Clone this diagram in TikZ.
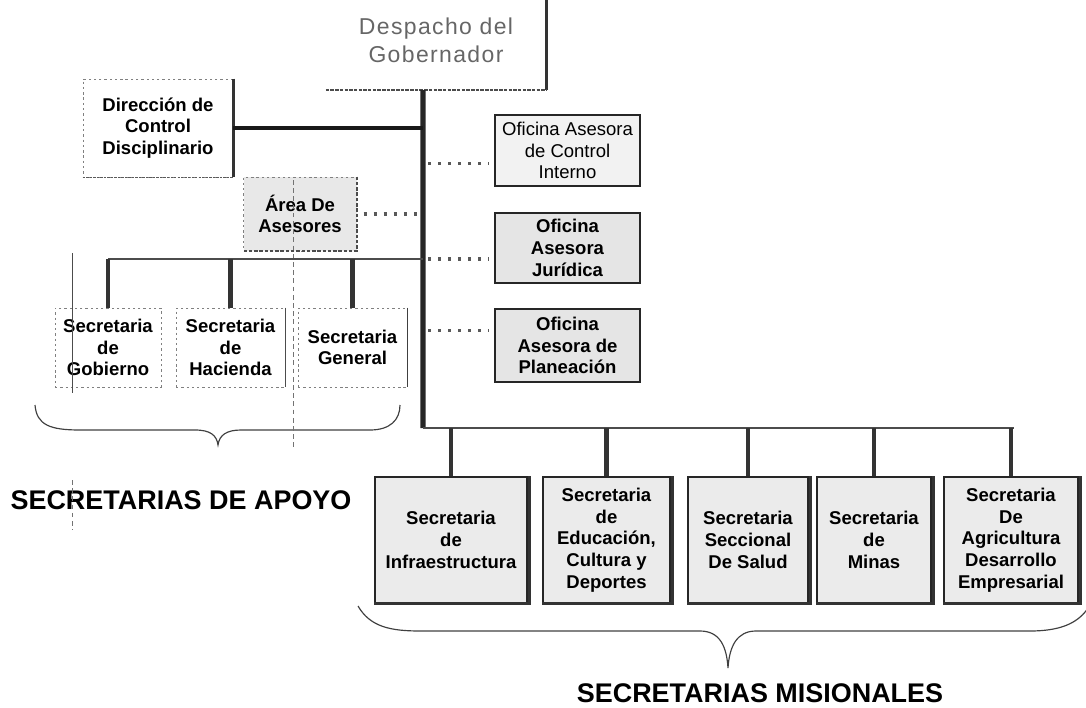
\documentclass[tikz,border=0pt]{standalone}
\usepackage{fontspec}
\setmainfont{Liberation Sans}
\usetikzlibrary{calc}

\newcommand{\orgfont}{\fontsize{15.8}{18.5}\selectfont}
\newcommand{\headfont}{\fontsize{23}{27}\selectfont}
\newcommand{\despfont}{\fontsize{19.6}{23.9}\selectfont\addfontfeature{LetterSpace=6}}

\tikzset{
  orgbox/.style={align=center, inner sep=0pt, font=\orgfont\bfseries},
  faintbox/.style={orgbox, draw=black!50, line width=.6pt, dash pattern=on 2pt off 2.5pt},
  officebox/.style={orgbox, draw=black!85, line width=1.3pt, fill=black!10},
  missionbox/.style={orgbox, draw=black!85, line width=1.1pt, fill=black!8},
  thickbar/.style={line width=4pt, black!80},
  busline/.style={line width=2.4pt, black!70},
  dotlink/.style={line width=2.6pt, black!65, dash pattern=on 2.6pt off 6pt},
  scanline/.style={line width=.5pt, black!55, dash pattern=on 4pt off 3pt},
  curlybrace/.style={line width=1pt, black!75},
  heading/.style={font=\headfont\bfseries, inner sep=0pt}
}

\begin{document}
\begin{tikzpicture}
\useasboundingbox (0,0) rectangle (32.58cm,-21.21cm);

\node (desp) at(13.08cm,-1.2cm) [align=center, inner sep=0pt, minimum width=6.6cm, minimum height=3cm, font=\despfont, text=black!60] {Despacho del\\Gobernador};
\draw [line width=2.5pt, black!80] (desp.north east) -- (desp.south east);
\draw [line width=1.8pt, black!70, dash pattern=on 3pt off 1pt] (desp.south west) -- (desp.south east);

\coordinate (spinetop) at ($(desp.south)+(-0.39cm,0)$);
\coordinate (spinebot) at (12.69cm,-12.84cm);
\draw [line width=4.3pt, black!85] (spinetop) -- (spinebot);

%---------------------------------------------------------------
\node (dir) at(4.74cm,-3.84cm) [faintbox, minimum width=4.5cm, minimum height=2.94cm] {Dirección de\\Control\\Disciplinario};
\draw [line width=2.5pt, black!80] (dir.north east) -- (dir.south east);
\draw [line width=1.2pt, black!65, dash pattern=on 2pt off 1pt] (dir.south west) -- (dir.south east);
\draw [thickbar, black!90, line width=3.4pt] (dir.east) -- (dir.east -| spinetop);

\node (are) at(9cm,-6.42cm) [faintbox, fill=black!9, minimum width=3.39cm, minimum height=2.22cm] {Área De\\Asesores};
\draw [line width=1.6pt, black!70, dash pattern=on 3pt off 1.5pt] (are.north east) -- (are.south east) -- (are.south west);
\draw [dotlink] ([xshift=.2cm]are.east) -- ([xshift=-.15cm]are.east -| spinetop);

%---------------------------------------------------------------
\node (gob) at(3.24cm,-10.425cm) [faintbox, minimum width=3.18cm, minimum height=2.37cm] {Secretaria\\de\\Gobierno};
\node (hac) at(6.915cm,-10.425cm) [faintbox, minimum width=3.27cm, minimum height=2.37cm] {Secretaria\\de\\Hacienda};
\node (gen) at(10.575cm,-10.425cm) [faintbox, minimum width=3.27cm, minimum height=2.37cm] {Secretaria\\General};
\draw [line width=1.4pt, black!75] (gen.north east) -- (gen.south east);
\draw [line width=1.2pt, black!70] (hac.north east) -- (hac.south east);

\coordinate (apoyobus) at (12.69cm,-7.77cm);
\draw [busline] (gob.north |- apoyobus) -- (apoyobus);
\draw [thickbar] (gob.north) -- (gob.north |- apoyobus);
\draw [thickbar] (hac.north) -- (hac.north |- apoyobus);
\draw [thickbar] (gen.north) -- (gen.north |- apoyobus);

%---------------------------------------------------------------
\node (ci) at(17.025cm,-4.515cm) [officebox, fill=black!5, font=\orgfont, minimum width=4.35cm, minimum height=2.13cm] {Oficina Asesora\\de Control\\Interno};
\node (jur) at(17.025cm,-7.44cm) [officebox, minimum width=4.35cm, minimum height=2.1cm] {Oficina\\Asesora\\Jurídica};
\node (pla) at(17.025cm,-10.365cm) [officebox, minimum width=4.35cm, minimum height=2.19cm] {Oficina\\Asesora de\\Planeación};

\draw [dotlink] ([xshift=.15cm,yshift=-.4cm]ci.west -| spinetop) -- ([xshift=-.15cm,yshift=-.4cm]ci.west);
\draw [dotlink] ([xshift=.15cm]apoyobus) -- ([xshift=-.15cm]jur.west |- apoyobus);
\draw [dotlink] ([xshift=.15cm,yshift=.46cm]pla.west -| spinetop) -- ([xshift=-.15cm,yshift=.46cm]pla.west);

%---------------------------------------------------------------
\node (inf) at(13.53cm,-16.2cm) [missionbox, minimum width=4.56cm, minimum height=3.78cm] {Secretaria\\de\\Infraestructura};
\node (edu) at(18.195cm,-16.2cm) [missionbox, minimum width=3.81cm, minimum height=3.78cm] {Secretaria\\de\\Educación,\\Cultura y\\Deportes};
\node (sal) at(22.44cm,-16.2cm) [missionbox, minimum width=3.6cm, minimum height=3.78cm] {Secretaria\\Seccional\\De Salud};
\node (min) at(26.22cm,-16.2cm) [missionbox, minimum width=3.42cm, minimum height=3.78cm] {Secretaria\\de\\Minas};
\node (agr) at(30.33cm,-16.2cm) [missionbox, minimum width=4.02cm, minimum height=3.78cm] {Secretaria\\De\\Agricultura\\Desarrollo\\Empresarial};

\draw [line width=3pt, black!80] ([xshift=.05cm]inf.north east) -- ([xshift=.05cm]inf.south east) -- (inf.south west);
\draw [line width=3pt, black!80] ([xshift=.05cm]edu.north east) -- ([xshift=.05cm]edu.south east) -- (edu.south west);
\draw [line width=3pt, black!80] ([xshift=.05cm]sal.north east) -- ([xshift=.05cm]sal.south east) -- (sal.south west);
\draw [line width=3pt, black!80] ([xshift=.05cm]min.north east) -- ([xshift=.05cm]min.south east) -- (min.south west);
\draw [line width=3pt, black!80] ([xshift=.05cm]agr.north east) -- ([xshift=.05cm]agr.south east) -- (agr.south west);

\draw [busline] (spinebot) -- ([xshift=.1cm]agr.north |- spinebot);
\draw [thickbar] (inf.north) -- (inf.north |- spinebot);
\draw [thickbar] (edu.north) -- (edu.north |- spinebot);
\draw [thickbar] (sal.north) -- (sal.north |- spinebot);
\draw [thickbar] (min.north) -- (min.north |- spinebot);
\draw [thickbar] (agr.north) -- (agr.north |- spinebot);

%---------------------------------------------------------------
\draw [curlybrace] (1.05cm,-12.15cm) .. controls (1.1cm,-12.75cm) and (1.5cm,-12.9cm) .. (2.4cm,-12.9cm) -- (5.85cm,-12.9cm) .. controls (6.3cm,-12.9cm) and (6.5cm,-13.05cm) .. (6.54cm,-13.35cm) .. controls (6.58cm,-13.05cm) and (6.8cm,-12.9cm) .. (7.23cm,-12.9cm) -- (11.1cm,-12.9cm) .. controls (11.7cm,-12.9cm) and (12cm,-12.6cm) .. (12cm,-12.15cm);
\node (apoyo) at(5.43cm,-15cm) [heading] {SECRETARIAS DE APOYO};

\draw [curlybrace] (10.74cm,-18.18cm) .. controls (11.1cm,-18.8cm) and (11.7cm,-18.93cm) .. (12.6cm,-18.93cm) -- (21cm,-18.93cm) .. controls (21.6cm,-18.93cm) and (21.8cm,-19.4cm) .. (21.84cm,-20.04cm) .. controls (21.88cm,-19.4cm) and (22.1cm,-18.93cm) .. (22.68cm,-18.93cm) -- (30.9cm,-18.93cm) .. controls (31.8cm,-18.93cm) and (32.3cm,-18.7cm) .. (32.6cm,-18.3cm);
\node (misional) at(22.8cm,-20.79cm) [heading] {SECRETARIAS MISIONALES};

%---------------------------------------------------------------
\draw [scanline] (8.79cm,-5.4cm) -- (8.79cm,-13.5cm);
\draw [scanline, solid, black!70] (2.16cm,-7.6cm) -- (2.16cm,-11.8cm);
\draw [scanline] (2.16cm,-14.4cm) -- (2.16cm,-15.9cm);

\end{tikzpicture}
\end{document}
